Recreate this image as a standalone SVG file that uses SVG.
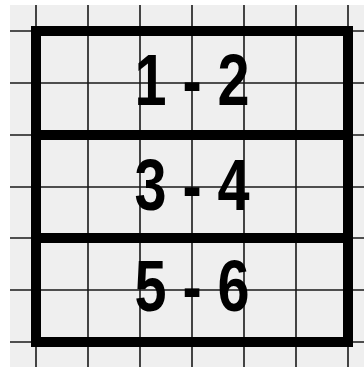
<svg xmlns="http://www.w3.org/2000/svg" width="364" height="367" viewBox="0 0 364 367">
  <style>
    .grid { stroke: #1a1a1a; stroke-width: 1.6; fill: none; }
    .thick { stroke: #000; stroke-width: 10; fill: none; }
    .lbl { font-family: "Liberation Sans", Arial, sans-serif; font-weight: bold; font-size: 72px; fill: #000; text-anchor: middle; }
  </style>
  <rect x="0" y="0" width="364" height="367" fill="#ffffff"/>
  <rect x="10" y="5" width="354" height="362" fill="#efefef"/>
  <g id="grid" class="grid">
    <path d="M36 5V367M88 5V367M140 5V367M192 5V367M244 5V367M296 5V367M348 5V367"/>
    <path d="M10 31H364M10 83H364M10 135H364M10 187H364M10 238H364M10 290H364M10 342H364"/>
  </g>
  <g id="frame" class="thick">
    <rect x="36" y="31" width="312" height="311"/>
  </g>
  <g id="connectors" class="thick">
    <path d="M36 135H348M36 238H348"/>
  </g>
  <g id="row1">
    <text class="lbl" transform="translate(192,105) scale(0.8,1)">1 - 2</text>
  </g>
  <g id="row2">
    <text class="lbl" transform="translate(192,210) scale(0.8,1)">3 - 4</text>
  </g>
  <g id="row3">
    <text class="lbl" transform="translate(192,311) scale(0.8,1)">5 - 6</text>
  </g>
</svg>
